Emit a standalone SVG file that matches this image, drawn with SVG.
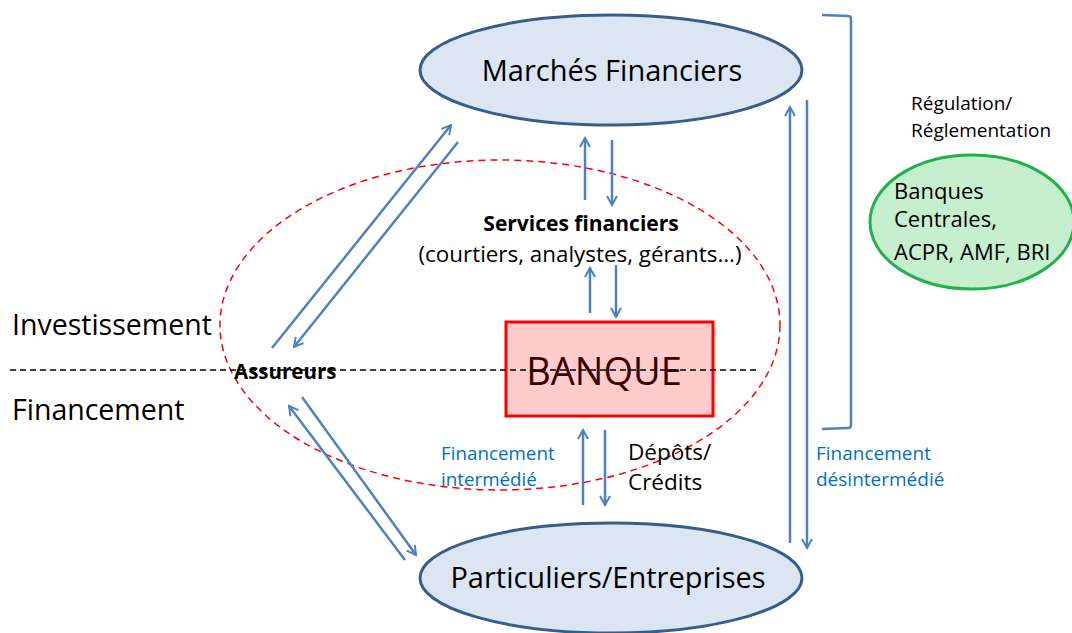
<svg xmlns="http://www.w3.org/2000/svg" width="1072" height="633" viewBox="0 0 1072 633">
<defs>
<marker id="ah" viewBox="0 0 12 12" refX="10" refY="6" markerWidth="12" markerHeight="12" markerUnits="userSpaceOnUse" orient="auto">
<path d="M1,1 L10,6 L1,11" fill="none" stroke="#4f81bd" stroke-width="2"/>
</marker>
<style>
text{font-family:"Open Sans","Liberation Sans",sans-serif;fill:#000}
.blue{fill:#0070c0}
.arr{stroke:#4f81bd;stroke-width:2.5;fill:none;marker-end:url(#ah)}
.ln{stroke:#4f81bd;stroke-width:2.5;fill:none}
.node{fill:#dce6f2;stroke:#385d8a;stroke-width:3}
</style>
</defs>
<rect width="1072" height="633" fill="#fff"/>
<g id="scope">
<ellipse cx="500" cy="325" rx="280" ry="165" fill="none" stroke="#ff0000" stroke-width="1.5" stroke-dasharray="7,5"/>
</g>
<g id="marches">
<ellipse class="node" cx="611" cy="70" rx="191" ry="55"/>
<text x="612" y="81" font-size="29" text-anchor="middle">Marchés Financiers</text>
</g>
<g id="particuliers">
<ellipse class="node" cx="611" cy="578" rx="191" ry="55"/>
<text x="608" y="588" font-size="29" text-anchor="middle">Particuliers/Entreprises</text>
</g>
<g id="banque">
<rect x="506" y="322" width="207" height="94" fill="#ffcccc" stroke="#ff0000" stroke-width="3"/>
<text x="604" y="385" font-size="38" text-anchor="middle" style="fill:#3a0000">BANQUE</text>
</g>
<g id="services">
<text x="581" y="231" font-size="21" font-weight="bold" text-anchor="middle">Services financiers</text>
<text x="580" y="262" font-size="22.4" text-anchor="middle">(courtiers, analystes, gérants…)</text>
</g>
<g id="regulateurs">
<ellipse cx="972" cy="222" rx="102" ry="67" fill="#c6efce" stroke="#22b14c" stroke-width="3"/>
<text font-size="22"><tspan x="894" y="199">Banques</tspan><tspan x="894" y="227">Centrales,</tspan><tspan x="894" y="260">ACPR, AMF, BRI</tspan></text>
</g>
<g id="labels">
<line x1="10" y1="370" x2="757" y2="370" stroke="#000" stroke-width="1.5" stroke-dasharray="6,4"/>
<text x="12" y="335" font-size="28.5">Investissement</text>
<text x="12" y="420" font-size="28.5">Financement</text>
<text x="234" y="379" font-size="20.5" font-weight="bold">Assureurs</text>
<text font-size="18.8" class="blue"><tspan x="441" y="460">Financement</tspan><tspan x="441" y="486">intermédié</tspan></text>
<text font-size="22.5"><tspan x="628" y="460">Dépôts/</tspan><tspan x="628" y="490">Crédits</tspan></text>
<text font-size="19" class="blue"><tspan x="816" y="460">Financement</tspan><tspan x="816" y="486">désintermédié</tspan></text>
<text font-size="19"><tspan x="911" y="110">Régulation/</tspan><tspan x="911" y="137">Réglementation</tspan></text>
</g>
<g id="connectors">
<line class="arr" x1="585" y1="200" x2="585" y2="138"/>
<line class="arr" x1="612" y1="140" x2="612" y2="205"/>
<line class="arr" x1="590" y1="313" x2="590" y2="268"/>
<line class="arr" x1="616" y1="265" x2="616" y2="317"/>
<line class="arr" x1="583" y1="505" x2="583" y2="430"/>
<line class="arr" x1="605" y1="430" x2="605" y2="505"/>
<line class="arr" x1="790" y1="543" x2="790" y2="107"/>
<line class="arr" x1="807" y1="100" x2="807" y2="548"/>
<line class="arr" x1="272" y1="348" x2="451" y2="125"/>
<line class="arr" x1="458" y1="142" x2="294" y2="347"/>
<line class="arr" x1="405" y1="560" x2="289" y2="406"/>
<line class="arr" x1="302" y1="397" x2="416" y2="555"/>
<path class="ln" d="M822,15 L848,16 Q851,16 851,19 L851,425 Q851,428 848,428 L822,429"/>
</g>
</svg>
